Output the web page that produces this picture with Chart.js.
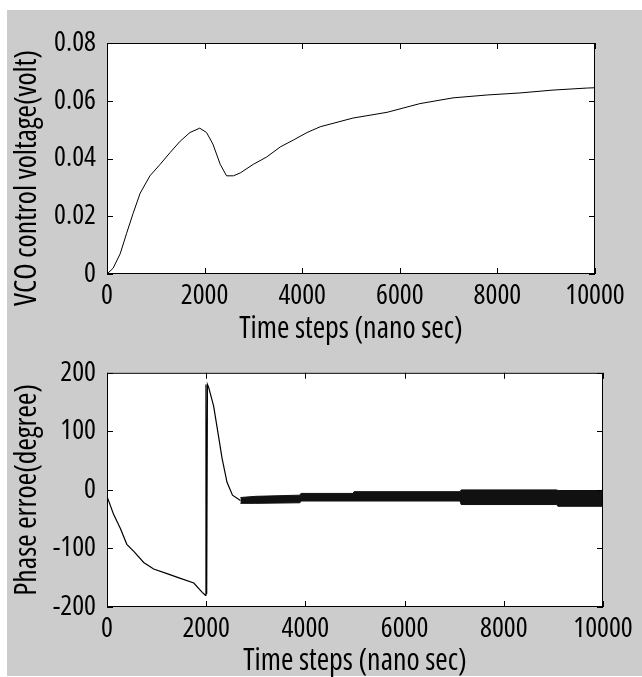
<!DOCTYPE html>
<html lang="en">
<head>
<meta charset="UTF-8">
<title>VCO control voltage and phase error</title>
<script src="https://cdn.jsdelivr.net/npm/chart.js@4.4.0/dist/chart.umd.min.js"></script>
<style>
  body { margin: 0; background: #fff; }
  .figure { position: absolute; left: 7px; top: 10px; width: 635px; height: 666px; background: #cccccc; }
  canvas { position: absolute; left: 0; }
  #vcoChart { top: 0; }
  #phaseChart { top: 345px; }
</style>
</head>
<body>
<div class="figure"></div>
<canvas id="vcoChart" width="642" height="352"></canvas>
<canvas id="phaseChart" width="642" height="334"></canvas>
<script>
// top plot: VCO control voltage
var vcoSteps = [0, 125, 270, 400, 535, 680, 880, 1090, 1290, 1500, 1700, 1900, 2040, 2170, 2320, 2450, 2590, 2730, 3000, 3270, 3550, 3820, 4100, 4370, 5040, 5740, 6410, 7090, 7790, 8460, 9140, 9840, 10000];
var vcoVolts = [0, 0.002, 0.007, 0.014, 0.021, 0.028, 0.034, 0.038, 0.042, 0.046, 0.049, 0.0505, 0.049, 0.045, 0.038, 0.034, 0.034, 0.035, 0.038, 0.0405, 0.044, 0.0464, 0.049, 0.051, 0.054, 0.056, 0.059, 0.061, 0.062, 0.0627, 0.0637, 0.0644, 0.0645];

// bottom plot: phase error, transient part
var phaseSteps = [0, 130, 270, 400, 540, 740, 940, 1210, 1480, 1750, 1920, 1985, 1995, 2010, 2025, 2050, 2150, 2250, 2320, 2420, 2530, 2690];
var phaseDeg = [-11, -41, -66, -93, -105, -124, -135, -143, -151, -159, -175, -180, 180, -178, 180, 175, 143, 91, 54, 13, -9, -18];

// bottom plot: steady state ripple band (upper / lower edge)
var bandSteps = [2690, 3000, 3890, 3910, 4960, 4980, 7120, 7140, 9070, 9090, 9980, 10000];
var bandUpper = [-13, -11, -9, -6, -6, -3, -3, 0, 0, -1, -1, 3];
var bandLower = [-23, -23, -22, -19, -19, -19, -19, -25, -25, -28, -28, -28];

var xTicks = [0, 2000, 4000, 6000, 8000, 10000];
var vcoTicks = [0, 0.02, 0.04, 0.06, 0.08];
var phaseTicks = [-200, -100, 0, 100, 200];

var FONT = "'Open Sans', 'Liberation Sans', sans-serif";
var NBSP = '\u00A0';

function points(xs, ys) {
    return xs.map(function (x, i) { return { x: x, y: ys[i] }; });
}

// white axes box, black frame and inward ticks on all four sides
var boxPlugin = {
    id: 'matlabBox',
    beforeDraw: function (chart) {
        var a = chart.chartArea, ctx = chart.ctx;
        ctx.save();
        ctx.fillStyle = '#fff';
        ctx.fillRect(a.left, a.top, a.right - a.left, a.bottom - a.top);
        ctx.restore();
    },
    afterDraw: function (chart) {
        var a = chart.chartArea, ctx = chart.ctx;
        var sx = chart.scales.x, sy = chart.scales.y;
        ctx.save();
        ctx.strokeStyle = '#000';
        ctx.lineWidth = 1;
        ctx.strokeRect(a.left + 0.5, a.top + 0.5, a.right - a.left - 1, a.bottom - a.top - 1);
        ctx.beginPath();
        sx.ticks.forEach(function (t) {
            var px = Math.round(sx.getPixelForValue(t.value)) + 0.5;
            ctx.moveTo(px, a.top); ctx.lineTo(px, a.top + 6);
            ctx.moveTo(px, a.bottom); ctx.lineTo(px, a.bottom - 6);
        });
        sy.ticks.forEach(function (t) {
            var py = Math.round(sy.getPixelForValue(t.value)) + 0.5;
            ctx.moveTo(a.left, py); ctx.lineTo(a.left + 6, py);
            ctx.moveTo(a.right, py); ctx.lineTo(a.right - 6, py);
        });
        ctx.stroke();
        ctx.restore();
    }
};

// narrow MATLAB-like text: the font "weight" slot carries the stretch keyword
var tickFont = { family: FONT, size: 28, weight: 'condensed' };
var titleFont = { family: FONT, size: 30, weight: 'condensed' };

function axes(yMin, yMax, yTicks, yTitle, yFormat, xHeight, xTitlePad) {
    return {
        x: {
            type: 'linear', min: 0, max: 10000,
            afterBuildTicks: function (s) { s.ticks = xTicks.map(function (v) { return { value: v }; }); },
            afterFit: function (s) { s.height = xHeight; },
            grid: { display: false, drawTicks: false },
            border: { display: false },
            ticks: { color: '#000', padding: 5, maxRotation: 0, font: tickFont,
                     callback: function (v) { return String(v); } },
            title: { display: true, text: 'Time steps (nano sec)', color: '#000',
                     padding: { top: 0, bottom: xTitlePad }, font: titleFont }
        },
        y: {
            type: 'linear', min: yMin, max: yMax,
            afterBuildTicks: function (s) { s.ticks = yTicks.map(function (v) { return { value: v }; }); },
            afterFit: function (s) { s.width = 107; },
            grid: { display: false, drawTicks: false },
            border: { display: false },
            ticks: { color: '#000', padding: 11, font: tickFont, callback: yFormat },
            title: { display: true, text: yTitle, color: '#000',
                     padding: { top: 9, bottom: 0 }, font: titleFont }
        }
    };
}

var common = {
    responsive: false,
    animation: false,
    plugins: { legend: { display: false }, tooltip: { enabled: false } },
    elements: { point: { radius: 0 }, line: { tension: 0 } }
};

new Chart(document.getElementById('vcoChart'), {
    type: 'line',
    data: {
        datasets: [{
            data: points(vcoSteps, vcoVolts),
            borderColor: '#000', borderWidth: 1, fill: false
        }]
    },
    options: Object.assign({}, common, {
        layout: { padding: { left: 0, top: 43, right: 47, bottom: 0 } },
        scales: axes(0, 0.08, vcoTicks, 'VCO control voltage(volt)' + NBSP.repeat(7),
            function (v) { return v === 0 ? '0' : v.toFixed(2); }, 78, 5)
    }),
    plugins: [boxPlugin]
});

new Chart(document.getElementById('phaseChart'), {
    type: 'line',
    data: {
        datasets: [{
            data: points(phaseSteps, phaseDeg),
            borderColor: '#000', borderWidth: 1.2, fill: false
        }, {
            data: points(bandSteps, bandUpper),
            borderColor: '#111', borderWidth: 1, fill: false
        }, {
            data: points(bandSteps, bandLower),
            borderColor: '#111', borderWidth: 1, backgroundColor: '#111', fill: '-1'
        }]
    },
    options: Object.assign({}, common, {
        layout: { padding: { left: 0, top: 8, right: 39, bottom: 0 } },
        scales: axes(-200, 200, phaseTicks, 'Phase erroe(degree)',
            function (v) { return String(v); }, 72, 0)
    }),
    plugins: [boxPlugin]
});
</script>
</body>
</html>
